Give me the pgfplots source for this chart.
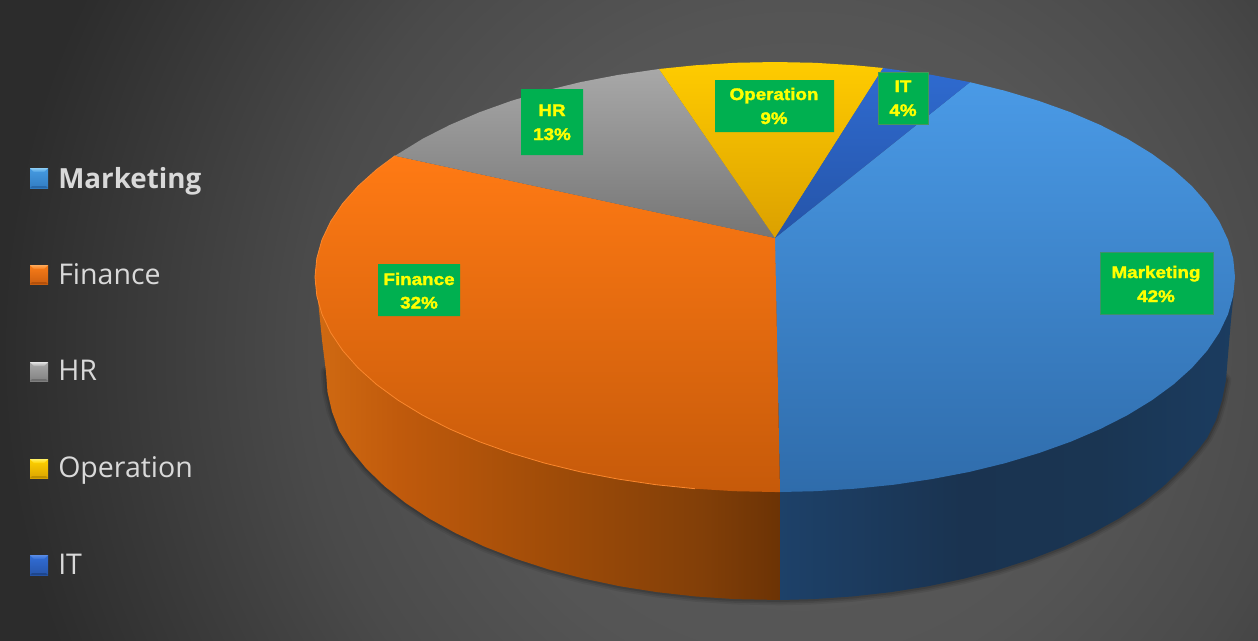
\documentclass[border=0pt]{standalone}
\usepackage{pgfplots}
\usepackage{pgfplotstable}
\usepackage{fontspec}
\pgfplotsset{compat=1.18}
\setmainfont{Open Sans}
\newfontfamily\lab[FakeBold=2,FakeStretch=1.12]{Liberation Sans Bold}
\definecolor{bgA}{HTML}{5C5C5C}\definecolor{bgB}{HTML}{555555}\definecolor{bgC}{HTML}{4A4A4A}\definecolor{bgD}{HTML}{2C2C2C}
\pgfdeclareradialshading{bgrad}{\pgfpoint{0bp}{0bp}}{color(0bp)=(bgA); color(9.2bp)=(bgB); color(13.9bp)=(bgC); color(22.2bp)=(bgD); color(25bp)=(bgD); color(50bp)=(bgD)}
\definecolor{fa}{HTML}{D06A12}\definecolor{fb}{HTML}{C05A0C}\definecolor{fc}{HTML}{A04C08}\definecolor{fd}{HTML}{823F08}\definecolor{fe}{HTML}{6C3305}
\pgfdeclarehorizontalshading{finwall}{100bp}{color(0bp)=(fa); color(25bp)=(fa); color(34bp)=(fb); color(50.3bp)=(fc); color(66.5bp)=(fd); color(75bp)=(fe); color(100bp)=(fe)}
\definecolor{ma}{HTML}{1D4169}\definecolor{mb}{HTML}{1A3350}\definecolor{mc}{HTML}{1A3552}\definecolor{md}{HTML}{1B3C60}
\pgfdeclarehorizontalshading{mktwall}{100bp}{color(0bp)=(ma); color(25bp)=(ma); color(45bp)=(mb); color(60bp)=(mc); color(75bp)=(md); color(100bp)=(md)}
\definecolor{labgreen}{HTML}{00B050}\definecolor{labyellow}{HTML}{FFFF00}\definecolor{legtext}{HTML}{D9D9D9}

\pgfplotstableread{
x y
316 285
318 300
322 340
326 372
327.5 392
332 411.6
339.3 431
351.1 450
366.2 468.4
384.3 486
405.4 502.8
429.3 518.6
455.8 533.2
484.7 546.7
515.9 558.8
549 569.5
583.8 578.6
620.1 586.3
657.5 592.2
695.9 596.5
734.8 599.1
780 600
780 400
400 270
316 285
}\wallF
\pgfplotstableread{
x y
780 600
813.2 599.1
852.1 596.5
890.5 592.2
927.9 586.3
964.2 578.6
999 569.5
1032.1 558.8
1063.3 546.7
1092.2 533.2
1118.7 518.6
1142.6 502.8
1163.7 486
1181.8 468.4
1197.9 450
1207 438
1216 420
1222 400
1226 380
1228 355
1231 320
1234 290
1100 280
780 400
780 600
}\wallM
\pgfplotstableread{
x y
400 300
326 372
327.5 392
332 411.6
339.3 431
351.1 450
366.2 468.4
384.3 486
405.4 502.8
429.3 518.6
455.8 533.2
484.7 546.7
515.9 558.8
549 569.5
583.8 578.6
620.1 586.3
657.5 592.2
695.9 596.5
734.8 599.1
780 600
813.2 599.1
852.1 596.5
890.5 592.2
927.9 586.3
964.2 578.6
999 569.5
1032.1 558.8
1063.3 546.7
1092.2 533.2
1118.7 518.6
1142.6 502.8
1163.7 486
1181.8 468.4
1197.9 450
1207 438
1216 420
1222 400
1226 380
1150 300
}\shadowline
\pgfplotstableread{
x y
775 238
970 82.2
1005 90.8
1038.8 100.9
1070.7 112.3
1100.3 125
1127.4 138.8
1151.8 153.7
1173.4 169.5
1191.9 186.1
1207.3 203.5
1219.3 221.4
1228 239.7
1233.2 258.3
1235 277
1233.2 295.7
1228 314.3
1219.3 332.6
1207.3 350.5
1191.9 367.9
1173.4 384.5
1151.8 400.3
1127.4 415.2
1100.3 429
1070.7 441.7
1038.8 453.1
1005 463.2
969.4 471.9
932.3 479
894.1 484.7
854.9 488.7
815.1 491.2
780 492
775 238
}\topM
\pgfplotstableread{
x y
775 238
780 492
775 492
734.9 491.2
695.1 488.7
655.9 484.7
617.7 479
580.6 471.9
545 463.2
511.2 453.1
479.3 441.7
449.7 429
422.6 415.2
398.2 400.3
376.6 384.5
358.1 367.9
342.7 350.5
330.7 332.6
322 314.3
316.8 295.7
315 277
316.8 258.3
322 239.7
330.7 221.4
342.7 203.5
358.1 186.1
376.6 169.5
395 155.8
775 238
}\topF
\pgfplotstableread{
x y
695.1 488.7
655.9 484.7
617.7 479
580.6 471.9
545 463.2
511.2 453.1
479.3 441.7
449.7 429
422.6 415.2
398.2 400.3
376.6 384.5
358.1 367.9
342.7 350.5
330.7 332.6
322 314.3
316.8 295.7
315 277
316.8 258.3
322 239.7
330.7 221.4
342.7 203.5
358.1 186.1
376.6 169.5
395 155.8
}\rimF
\pgfplotstableread{
x y
775 238
395 155.8
422.6 138.8
449.7 125
479.3 112.3
511.2 100.9
545 90.8
580.6 82.1
617.7 75
659 69
775 238
}\topH
\pgfplotstableread{
x y
775 238
659 69
695.1 65.3
734.9 62.8
775 62
815.1 62.8
854.9 65.3
883.1 68
775 238
}\topO
\pgfplotstableread{
x y
775 238
883.1 68
932.3 75
970 82.2
775 238
}\topI

\newcommand{\legitem}[8]{%
  \addplot[shade,top color=#4,bottom color=#5,draw=none] coordinates {(30,#1) (48,#1) (48,#2) (30,#2) (30,#1)};
  \addplot[shade,top color=#3,bottom color=#4,draw=none] coordinates {(30,#1) (48,#1) (44,#6) (34,#6) (30,#1)};
  \addplot[fill=#7,draw=none] coordinates {(30,#2) (48,#2) (46,#8) (32,#8) (30,#2)};
}
\tikzset{lbl/.style={anchor=base,inner sep=0pt,text=labyellow,font=\lab\fontsize{12.6pt}{14pt}\selectfont},
  lg/.style={anchor=base west,inner sep=0pt,text=legtext,font=\fontsize{21.4pt}{24pt}\selectfont}}
\begin{document}
\begin{tikzpicture}[x=0.75pt,y=0.75pt]
\path[use as bounding box] (0,0) rectangle (1258,640);
\begin{scope}
\clip (0,0) rectangle (1258,640);
\shade[shading=bgrad] (800-900,290-900) rectangle (800+900,290+900);
\end{scope}
\begin{axis}[at={(0,0)},anchor=south west,scale only axis,width=943.5pt,height=480pt,
  xmin=0,xmax=1258,ymin=0,ymax=640,y dir=reverse,hide axis,clip=false]
% soft shadow
\addplot[draw=black,opacity=.07,line width=8pt,line join=round] table {\shadowline};
\addplot[draw=black,opacity=.09,line width=5.5pt,line join=round] table {\shadowline};
\addplot[draw=black,opacity=.12,line width=3pt,line join=round] table {\shadowline};
% walls
\addplot[shading=finwall,draw=none] table {\wallF};
\addplot[shading=mktwall,draw=none] table {\wallM};
% top faces
\addplot[shade,top color={rgb,255:red,74;green,154;blue,230},bottom color={rgb,255:red,47;green,108;blue,171},draw=none] table {\topM};
\addplot[shade,top color={rgb,255:red,255;green,122;blue,20},bottom color={rgb,255:red,198;green,90;blue,10},draw=none] table {\topF};
\addplot[draw={rgb,255:red,250;green,135;blue,45},line width=.6pt] table {\rimF};
\addplot[shade,top color={rgb,255:red,168;green,168;blue,168},bottom color={rgb,255:red,117;green,117;blue,117},draw=none] table {\topH};
\addplot[shade,top color={rgb,255:red,255;green,204;blue,0},bottom color={rgb,255:red,219;green,160;blue,0},draw=none] table {\topO};
\addplot[shade,top color={rgb,255:red,47;green,107;blue,208},bottom color={rgb,255:red,37;green,84;blue,168},draw=none] table {\topI};
% label boxes
\addplot[fill=labgreen,draw={rgb,255:red,60;green,145;blue,105},line width=.7pt] coordinates {(1100,252) (1213,252) (1213,314) (1100,314) (1100,252)};
\addplot[fill=labgreen,draw=none] coordinates {(378,264) (460,264) (460,316) (378,316) (378,264)};
\addplot[fill=labgreen,draw=none] coordinates {(521,89) (583,89) (583,155) (521,155) (521,89)};
\addplot[fill=labgreen,draw=none] coordinates {(715,80) (834,80) (834,132) (715,132) (715,80)};
\addplot[fill=labgreen,draw={rgb,255:red,70;green,150;blue,90},line width=.6pt] coordinates {(878,72) (928,72) (928,124) (878,124) (878,72)};
\node[lbl] at (axis cs:1156,278) {Marketing};
\node[lbl] at (axis cs:1156,302) {42\%};
\node[lbl] at (axis cs:419,285) {Finance};
\node[lbl] at (axis cs:419,308.5) {32\%};
\node[lbl] at (axis cs:552,116) {HR};
\node[lbl] at (axis cs:552,140) {13\%};
\node[lbl] at (axis cs:774,100) {Operation};
\node[lbl] at (axis cs:774,124) {9\%};
\node[lbl] at (axis cs:903,92) {IT};
\node[lbl] at (axis cs:903,116) {4\%};
% legend
\legitem{168}{188}{{rgb,255:red,140;green,205;blue,245}}{{rgb,255:red,70;green,155;blue,225}}{{rgb,255:red,50;green,125;blue,195}}{172}{{rgb,255:red,40;green,105;blue,170}}{186}
\legitem{265}{284}{{rgb,255:red,255;green,170;blue,90}}{{rgb,255:red,250;green,125;blue,25}}{{rgb,255:red,205;green,95;blue,15}}{269}{{rgb,255:red,180;green,80;blue,10}}{282}
\legitem{362}{381}{{rgb,255:red,230;green,230;blue,230}}{{rgb,255:red,170;green,170;blue,170}}{{rgb,255:red,130;green,130;blue,130}}{366}{{rgb,255:red,110;green,110;blue,110}}{379}
\legitem{459}{478}{{rgb,255:red,255;green,240;blue,100}}{{rgb,255:red,255;green,210;blue,0}}{{rgb,255:red,220;green,165;blue,0}}{463}{{rgb,255:red,190;green,145;blue,0}}{476}
\legitem{555}{575}{{rgb,255:red,90;green,140;blue,230}}{{rgb,255:red,50;green,110;blue,215}}{{rgb,255:red,38;green,85;blue,170}}{559}{{rgb,255:red,30;green,70;blue,140}}{573}
\node[lg,font=\fontsize{20.8pt}{24pt}\selectfont\bfseries] at (axis cs:58,188) {Marketing};
\node[lg] at (axis cs:58,284) {Finance};
\node[lg] at (axis cs:58,380) {HR};
\node[lg] at (axis cs:58,477) {Operation};
\node[lg] at (axis cs:58,574) {IT};
\end{axis}
\end{tikzpicture}
\end{document}
